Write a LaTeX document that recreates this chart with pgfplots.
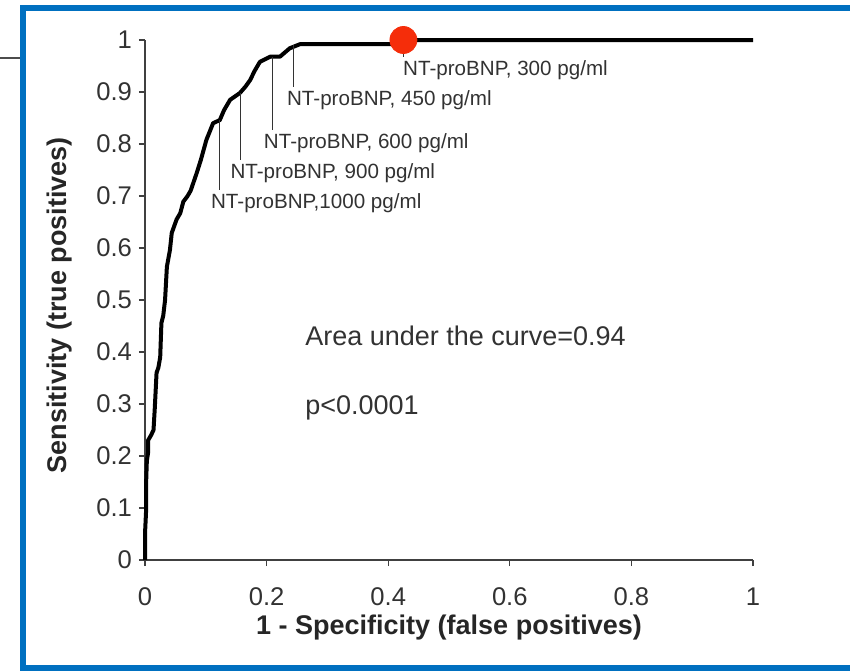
\documentclass[border=0pt]{standalone}
\usepackage{fontspec}
\setmainfont{Liberation Sans}
\usepackage{pgfplots}
\pgfplotsset{compat=1.18}
\definecolor{framebl}{RGB}{0,112,192}
\definecolor{dotred}{RGB}{245,45,10}
\definecolor{txtgray}{RGB}{50,50,50}
\begin{document}
\begin{tikzpicture}
\begin{axis}[
  at={(0,0)}, anchor=south west,
  scale only axis,
  width=304pt, height=260pt,
  xmin=0, xmax=1, ymin=0, ymax=1,
  axis x line*=bottom, axis y line*=left,
  axis line style={draw=black!75, line width=0.6pt},
  tick align=outside,
  major tick length=3pt,
  tick style={draw=black!75, line width=0.6pt},
  xtick={0,0.2,0.4,0.6,0.8,1},
  ytick={0,0.1,0.2,0.3,0.4,0.5,0.6,0.7,0.8,0.9,1},
  /pgf/number format/assume math mode=true,
  ticklabel style={font=\fontsize{12.8}{15}\selectfont, text=txtgray},
  xticklabel style={yshift=-7.5pt},
  yticklabel style={xshift=0pt},
  xlabel={1 - Specificity (false positives)},
  ylabel={Sensitivity (true positives)},
  label style={font=\fontsize{13.5}{16}\selectfont\bfseries, text=black!85},
  xlabel style={at={(axis description cs:0.5,0)}, anchor=center, yshift=-34pt},
  ylabel style={at={(axis description cs:-0.14,0.49)}, anchor=center},
  clip=false,
]
\addplot[black, line width=2pt, line join=round] coordinates {
(0,0) (0,0.05) (0.002,0.1) (0.002,0.154) (0.003,0.19) (0.005,0.206)
(0.005,0.23) (0.01,0.24) (0.014,0.25) (0.016,0.29) (0.019,0.36)
(0.022,0.37) (0.025,0.39) (0.027,0.456) (0.03,0.47) (0.033,0.5)
(0.036,0.564) (0.041,0.596) (0.044,0.629) (0.052,0.655) (0.058,0.667)
(0.063,0.689) (0.07,0.70) (0.075,0.71) (0.085,0.744) (0.092,0.77)
(0.101,0.808) (0.112,0.84) (0.123,0.846) (0.13,0.865) (0.14,0.885)
(0.156,0.898) (0.165,0.91) (0.173,0.923) (0.18,0.94) (0.189,0.958)
(0.206,0.968) (0.222,0.968) (0.238,0.984) (0.255,0.992) (0.3,0.992)
(0.42,0.992) (0.425,1) (1,1)
};
% cut-off markers
\addplot[black!80, line width=0.6pt] coordinates {(0.123,0.846) (0.123,0.712)};
\addplot[black!80, line width=0.6pt] coordinates {(0.157,0.898) (0.157,0.769)};
\addplot[black!80, line width=0.6pt] coordinates {(0.210,0.968) (0.210,0.827)};
\addplot[black!80, line width=0.6pt] coordinates {(0.244,0.990) (0.244,0.910)};
\addplot[black!80, line width=0.6pt] coordinates {(0.425,1) (0.425,0.967)};
\addplot[only marks, mark=*, mark size=6.75pt, color=dotred] coordinates {(0.425,1)};
\begin{scope}[every node/.style={font=\fontsize{10.3}{12}\selectfont, text=txtgray, anchor=west, inner sep=0pt}]
\node at (axis cs:0.108,0.687) {NT-proBNP,1000 pg/ml};
\node at (axis cs:0.140,0.744) {NT-proBNP, 900 pg/ml};
\node at (axis cs:0.195,0.802) {NT-proBNP, 600 pg/ml};
\node at (axis cs:0.233,0.885) {NT-proBNP, 450 pg/ml};
\node at (axis cs:0.424,0.942) {NT-proBNP, 300 pg/ml};
\end{scope}
\begin{scope}[every node/.style={font=\fontsize{13.5}{16}\selectfont, text=txtgray, anchor=west, inner sep=0pt}]
\node at (axis cs:0.263,0.431) {Area under the curve=0.94};
\node at (axis cs:0.263,0.292) {p<0.0001};
\end{scope}
\end{axis}
\draw[framebl, line width=3pt] (360pt,276pt) -- (-61pt,276pt) -- (-61pt,-54pt) -- (360pt,-54pt);
\draw[black!70, line width=1pt] (-73pt,251pt) -- (-62.5pt,251pt);
\pgfresetboundingbox
\path[use as bounding box] (-72.5pt,-55.5pt) rectangle (352.5pt,280pt);
\end{tikzpicture}
\end{document}
